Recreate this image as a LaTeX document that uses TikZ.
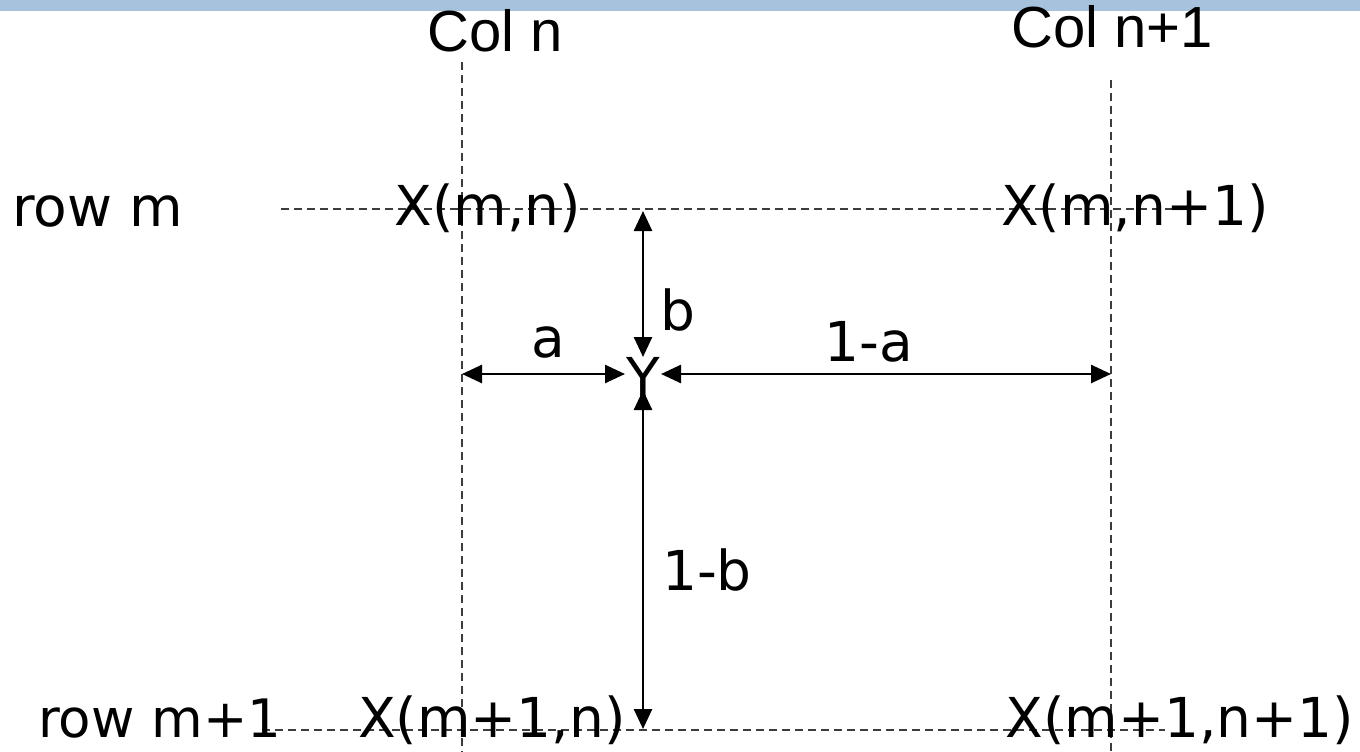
\documentclass[tikz,border=0pt]{standalone}
\usepackage{fontspec}
\setmainfont{DejaVu Sans}
\newfontfamily\colfont{Liberation Sans}
\usetikzlibrary{arrows.meta}
\definecolor{barblue}{RGB}{166,194,220}
\definecolor{dashgray}{RGB}{60,60,60}
\tikzset{
  grid/.style={draw=dashgray, line width=1.8pt, dash pattern=on 8pt off 5pt},
  dim/.style={draw=black, line width=2.6pt, {Triangle[length=20pt,width=18pt]}-{Triangle[length=20pt,width=18pt]}},
  lbl/.style={inner sep=0pt, font=\fontsize{55}{62}\selectfont},
  collbl/.style={inner sep=0pt, font=\colfont\fontsize{58}{64}\selectfont}
}
\begin{document}
\begin{tikzpicture}[x=1pt,y=-1pt]
\useasboundingbox (0,0) rectangle (1360,752);
\fill[barblue] (0,0) rectangle (1360,11);
% grid coordinates
\coordinate (cnT) at (462,62);
\coordinate (cnB) at (462,752);
\coordinate (cn1T) at (1111,80);
\coordinate (cn1B) at (1111,752);
\coordinate (rmL) at (281,209);
\coordinate (rmR) at (1185,209);
\coordinate (rm1L) at (262,730);
\coordinate (rm1R) at (1165,730);
\draw[grid] (cnT) -- (cnB);
\draw[grid] (cn1T) -- (cn1B);
\draw[grid] (rmL) -- (rmR);
\draw[grid] (rm1L) -- (rm1R);
% labels
\node[collbl] (coln) at (495,31) {Col n};
\node[collbl] (coln1) at (1112,27) {Col n+1};
\node[lbl, anchor=west] (rowm) at (12,211) {row m};
\node[lbl, anchor=west, font=\fontsize{53}{60}\selectfont] (rowm1) at (38,719) {row m+1};
\node[lbl] (xmn) at (488,208) {X(m,n)};
\node[lbl] (xmn1) at (1135,208) {X(m,n+1)};
\node[lbl] (xm1n) at (492,720) {X(m+1,n)};
\node[lbl] (xm1n1) at (1180,720) {X(m+1,n+1)};
\node[lbl] (Y) at (643,377) {Y};
% arrow endpoints
\coordinate (bT) at (643,211);
\coordinate (bB) at (643,357);
\coordinate (aL) at (462,374);
\coordinate (aR) at (625,374);
\coordinate (caL) at (661,374);
\coordinate (caR) at (1111,374);
\coordinate (cbT) at (643,390);
\coordinate (cbB) at (643,729);
\draw[dim] (bT) -- (bB);
\draw[dim] (aL) -- (aR);
\draw[dim] (caL) -- (caR);
\draw[dim] (cbT) -- (cbB);
\node[lbl] (lb) at (678,310) {b};
\node[lbl] (la) at (548,342) {a};
\node[lbl] (l1a) at (869,342) {1-a};
\node[lbl] (l1b) at (707,570) {1-b};
\end{tikzpicture}
\end{document}
